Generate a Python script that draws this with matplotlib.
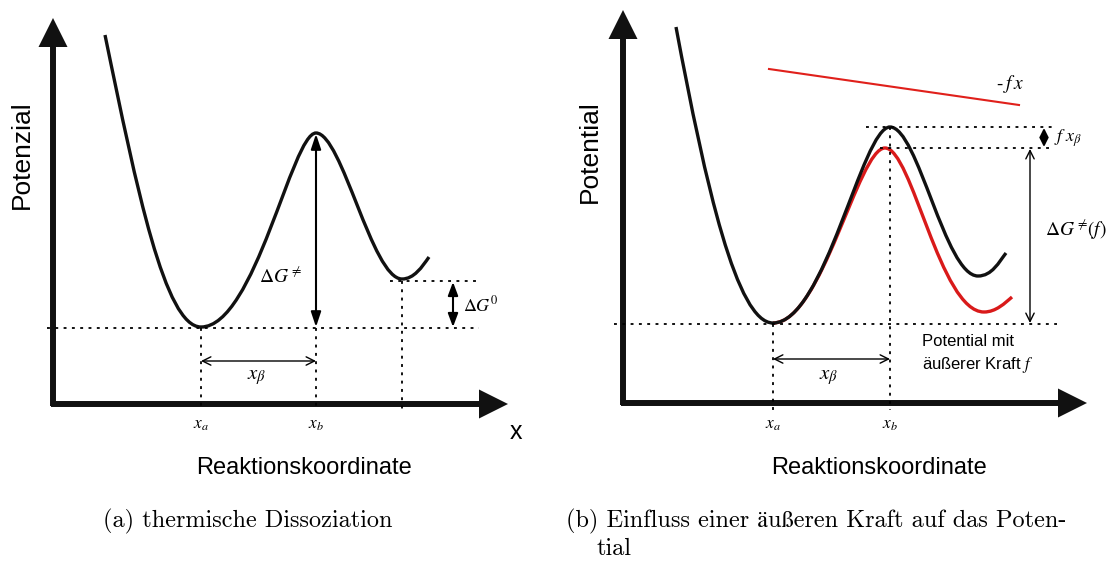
import matplotlib.pyplot as plt
from matplotlib.path import Path
from matplotlib.patches import PathPatch

plt.rcParams['mathtext.fontset'] = 'stix'
SANS = 'Liberation Sans'
SERIF = ['cmr10', 'STIXGeneral']

# Kurven als kubische Bezier-Stützpunkte (Pixel, y nach unten)
kurve_a = [(105, 35), (137, 190), (165, 327), (201, 327),
           (255, 327), (292, 133), (316, 133),
           (342, 133), (372, 279), (402, 279),
           (414, 279), (422, 267), (429, 257)]
kurve_b = [(676, 27), (706, 187), (737, 323), (773, 323),
           (825, 323), (862, 127), (890, 127),
           (918, 127), (945, 276), (978, 276),
           (992, 276), (999, 262), (1006, 253)]
kurve_b_kraft = [(773, 323), (822, 323), (858, 148), (885, 148),
                 (912, 148), (940, 312), (984, 312),
                 (996, 312), (1005, 303), (1012, 297)]
gerade_fx = [(769, 69), (1019, 105)]

# Achsen: Ursprung, Spitze y, Spitze x
achsen = [dict(x0=53, y0=404, ytip=18, xtip=508),
          dict(x0=623, y0=403, ytip=10, xtip=1087)]

fig = plt.figure(figsize=(11.1, 5.64), dpi=100)
ax = fig.add_axes([0, 0, 1, 1])
ax.set_xlim(0, 1110)
ax.set_ylim(564, 0)
ax.axis('off')


def bezier(pts, color, lw):
    codes = [Path.MOVETO] + [Path.CURVE4] * (len(pts) - 1)
    ax.add_patch(PathPatch(Path(pts, codes), facecolor='none', edgecolor=color,
                           lw=lw, capstyle='butt'))


def achse(x0, y0, ytip, xtip):
    hl, hw = 29, 14.5
    ax.plot([x0, x0], [y0 + 2, ytip + hl - 1], color='#111', lw=4.3, solid_capstyle='butt')
    ax.plot([x0 - 2, xtip - hl + 1], [y0, y0], color='#111', lw=4.3, solid_capstyle='butt')
    ax.fill([x0 - hw, x0 + hw, x0], [ytip + hl, ytip + hl, ytip], color='#111', lw=0)
    ax.fill([xtip - hl, xtip - hl, xtip], [y0 - hw, y0 + hw, y0], color='#111', lw=0)


def punktiert(xs, ys):
    ax.plot(xs, ys, color='k', lw=1.3, linestyle=(0, (1.6, 3.0)))


def pfeil(p1, p2, gefuellt=True, hl=0.9, hw=0.3, lw=1.5):
    stil = '<|-|>' if gefuellt else '<->'
    ax.annotate('', xy=p2, xytext=p1,
                arrowprops=dict(arrowstyle=f'{stil},head_length={hl},head_width={hw}',
                                lw=lw, color='k', shrinkA=0, shrinkB=0))


for a in achsen:
    achse(**a)

# ---- (a) ----
bezier(kurve_a, '#111', 2.4)
punktiert([47, 479], [328, 328])
punktiert([390, 479], [281, 281])
punktiert([201, 201], [328, 410])
punktiert([316, 316], [328, 410])
punktiert([402, 402], [281, 410])
pfeil((316, 134), (316, 327))
pfeil((453, 282), (453, 327), hl=0.8)
pfeil((201, 361), (316, 361), gefuellt=False, hl=0.6, hw=0.3, lw=1.0)
ax.text(280, 277, r'$\Delta G^{\neq}$', fontsize=14, ha='center', va='center')
ax.text(463, 305, r'$\Delta G^{0}$', fontsize=13, ha='left', va='center')
ax.text(257, 377, r'$x_{\beta}$', fontsize=15, ha='center', va='center')
ax.text(201, 424, r'$x_a$', fontsize=12.5, ha='center', va='center')
ax.text(316, 424, r'$x_b$', fontsize=12.5, ha='center', va='center')
ax.text(22, 155, 'Potenzial', fontsize=19, family=SANS, rotation=90, ha='center', va='center')
ax.text(516, 432, 'x', fontsize=18, family=SANS, ha='center', va='center')
ax.text(304, 468, 'Reaktionskoordinate', fontsize=17, family=SANS, ha='center', va='center')

# ---- (b) ----
ax.plot(*zip(*gerade_fx), color='#e0201b', lw=1.5)
bezier(kurve_b_kraft, '#d91a1a', 2.4)
bezier(kurve_b, '#111', 2.4)
punktiert([614, 1057], [324, 324])
punktiert([866, 1054], [127, 127])
punktiert([880, 1054], [148, 148])
punktiert([773, 773], [324, 410])
punktiert([890, 890], [127, 410])
pfeil((1044, 128), (1044, 147), hl=0.5, hw=0.25)
pfeil((1030, 149), (1030, 323), gefuellt=False, hl=0.6, hw=0.3, lw=1.0)
pfeil((773, 359), (890, 359), gefuellt=False, hl=0.6, hw=0.3, lw=1.0)
ax.text(1003, 84, '-', fontsize=14, family='STIXGeneral', ha='right', va='center')
ax.text(1003, 84, r'$f\,x$', fontsize=14, ha='left', va='center')
ax.text(1054, 138, r'$f\ x_{\beta}$', fontsize=13, ha='left', va='center')
ax.text(1045, 230, r'$\Delta G^{\neq}\!(f)$', fontsize=14, ha='left', va='center')
ax.text(829, 377, r'$x_{\beta}$', fontsize=15, ha='center', va='center')
ax.text(773, 424, r'$x_a$', fontsize=12.5, ha='center', va='center')
ax.text(890, 424, r'$x_b$', fontsize=12.5, ha='center', va='center')
ax.text(922, 342, 'Potential mit', fontsize=12, family=SANS, ha='left', va='center')
ax.text(922, 365, 'äußerer Kraft $f$', fontsize=12, family=SANS, ha='left', va='center')
ax.text(590, 152, 'Potential', fontsize=19, family=SANS, rotation=90, ha='center', va='center')
ax.text(879, 468, 'Reaktionskoordinate', fontsize=17, family=SANS, ha='center', va='center')

# Bildunterschriften
ax.text(103, 521, '(a) thermische Dissoziation', fontsize=17.5, family=SERIF, ha='left', va='center')
ax.text(566, 521, '(b) Einfluss einer äußeren Kraft auf das Poten-', fontsize=17.5, family=SERIF,
        ha='left', va='center')
ax.text(597, 549, 'tial', fontsize=17.5, family=SERIF, ha='left', va='center')

fig.savefig('out.png', dpi=100)
